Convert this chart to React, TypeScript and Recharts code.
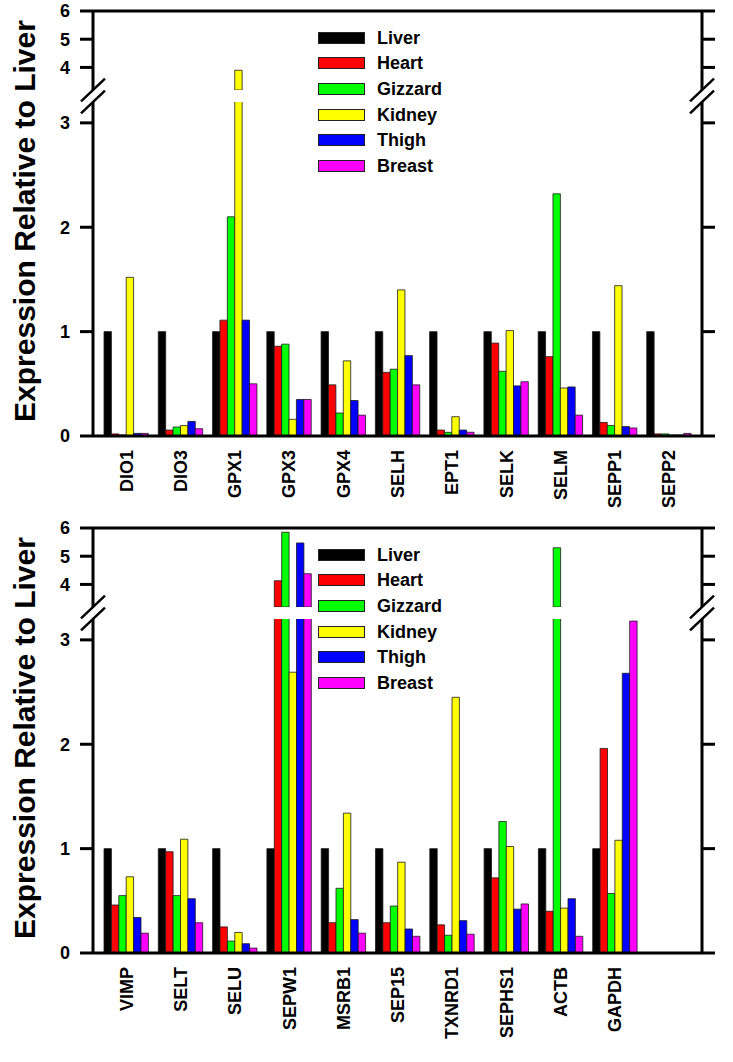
import React from 'react';
import { BarChart, Bar, XAxis, YAxis, Legend, ReferenceLine } from 'recharts';

const FONT = '"Liberation Sans", Arial, Helvetica, sans-serif';

const tissues = ['Liver', 'Heart', 'Gizzard', 'Kidney', 'Thigh', 'Breast'];
const colors = ['#000000', '#ff0000', '#00ff00', '#ffff00', '#0000ff', '#ff00ff'];

const genesA = ['DIO1', 'DIO3', 'GPX1', 'GPX3', 'GPX4', 'SELH', 'EPT1', 'SELK', 'SELM', 'SEPP1', 'SEPP2'];
const liverA = [1, 1, 1, 1, 1, 1, 1, 1, 1, 1, 1];
const heartA = [0.02, 0.057, 1.11, 0.86, 0.49, 0.61, 0.057, 0.89, 0.76, 0.13, 0.02];
const gizzardA = [0.01, 0.086, 2.1, 0.88, 0.22, 0.64, 0.035, 0.62, 2.32, 0.1, 0.02];
const kidneyA = [1.52, 0.1, 3.9, 0.16, 0.72, 1.4, 0.185, 1.01, 0.46, 1.44, 0.01];
const thighA = [0.025, 0.14, 1.11, 0.35, 0.34, 0.77, 0.057, 0.48, 0.47, 0.09, 0.01];
const breastA = [0.025, 0.07, 0.5, 0.35, 0.2, 0.49, 0.036, 0.52, 0.2, 0.077, 0.025];

const genesB = ['VIMP', 'SELT', 'SELU', 'SEPW1', 'MSRB1', 'SEP15', 'TXNRD1', 'SEPHS1', 'ACTB', 'GAPDH'];
const liverB = [1, 1, 1, 1, 1, 1, 1, 1, 1, 1];
const heartB = [0.46, 0.97, 0.25, 4.13, 0.29, 0.29, 0.27, 0.72, 0.4, 1.96];
const gizzardB = [0.55, 0.55, 0.114, 5.85, 0.62, 0.45, 0.17, 1.26, 5.3, 0.57];
const kidneyB = [0.73, 1.09, 0.197, 2.69, 1.34, 0.87, 2.45, 1.02, 0.43, 1.08];
const thighB = [0.34, 0.52, 0.089, 5.47, 0.32, 0.23, 0.31, 0.42, 0.52, 2.68];
const breastB = [0.19, 0.29, 0.047, 4.38, 0.19, 0.16, 0.18, 0.47, 0.16, 3.18];

const lowerTicks = [0, 1, 2, 3];
const upperTicks = [4, 5, 6];
const BREAK = 3.2;
const TOP = 6;

const yLabel = 'Expression Relative to Liver';

// layout constants
const W = 733;
const UPPER_H = 90;
const UPPER_MT = 11;
const LOWER_MT = 12;
const XAXIS_H = 95;
const PLOT_LOWER_H = 334;
const LOWER_H = LOWER_MT + PLOT_LOWER_H + XAXIS_H;
const ML = 33;
const MR = 11;
const YW = 60;
const YRW = 20;
const PANEL_OFFSETS = [0, 517];

const axisStyle = { stroke: '#000', strokeWidth: 3 };
const tickStyle = { fill: '#000', fontSize: 18, fontWeight: 700, fontFamily: FONT };

function buildRows(genes: string[], series: number[][], upper: boolean) {
  return genes.map((g, i) => {
    const row: any = { gene: g };
    tissues.forEach((t, k) => {
      const v = series[k][i];
      row[t] = upper ? (v > BREAK ? v : null) : v;
    });
    return row;
  });
}

function XTick(props: any) {
  const { x, y, payload } = props;
  return (
    <text
      x={x}
      y={y}
      transform={`rotate(-90, ${x}, ${y})`}
      textAnchor="end"
      dy="0.36em"
      fontSize={18}
      fontWeight={700}
      fontFamily={FONT}
      fill="#000"
    >
      {payload.value}
    </text>
  );
}

function LegendContent(props: any) {
  const payload = (props.payload || []).slice();
  payload.sort((a: any, b: any) => tissues.indexOf(a.value) - tissues.indexOf(b.value));
  return (
    <div style={{ fontFamily: FONT, fontWeight: 700, fontSize: 18, color: '#000' }}>
      {payload.map((e: any, i: number) => (
        <div key={i} style={{ display: 'flex', alignItems: 'center', height: 25.67 }}>
          <span
            style={{
              display: 'inline-block',
              width: 45,
              height: 10,
              background: e.color,
              border: '1px solid #222',
              marginRight: 12,
            }}
          />
          <span style={{ lineHeight: '18px' }}>{e.value}</span>
        </div>
      ))}
    </div>
  );
}

function makeBars() {
  return tissues.map((t, k) => (
    <Bar
      key={t}
      dataKey={t}
      name={t}
      fill={colors[k]}
      stroke="#1a1a1a"
      strokeWidth={0.8}
      isAnimationActive={false}
    />
  ));
}

function Panel({ genes, series, top, padRight }: { genes: string[]; series: number[][]; top: number; padRight: number }) {
  const upperRows = buildRows(genes, series, true);
  const lowerRows = buildRows(genes, series, false);
  return (
    <>
      <div style={{ position: 'absolute', left: 0, top }}>
        <BarChart
          width={W}
          height={UPPER_H}
          data={upperRows}
          margin={{ top: UPPER_MT, right: MR, bottom: 0, left: ML }}
          barSize={7.4}
          barGap={0}
        >
          <XAxis dataKey="gene" hide padding={{ left: 6, right: padRight }} />
          <YAxis
            type="number"
            domain={[BREAK, TOP]}
            ticks={upperTicks}
            allowDataOverflow
            width={YW}
            tickSize={13}
            tickMargin={10}
            axisLine={axisStyle}
            tickLine={axisStyle}
            tick={tickStyle}
            interval={0}
          />
          <YAxis
            yAxisId="right"
            orientation="right"
            type="number"
            domain={[BREAK, TOP]}
            ticks={upperTicks}
            allowDataOverflow
            width={YRW}
            tickSize={13}
            axisLine={axisStyle}
            tickLine={axisStyle}
            tickFormatter={() => ''}
            interval={0}
          />
          <ReferenceLine y={TOP} stroke="#000" strokeWidth={3} />
          {makeBars()}
        </BarChart>
      </div>
      <div style={{ position: 'absolute', left: 0, top: top + UPPER_H }}>
        <BarChart
          width={W}
          height={LOWER_H}
          data={lowerRows}
          margin={{ top: LOWER_MT, right: MR, bottom: 0, left: ML }}
          barSize={7.4}
          barGap={0}
        >
          <XAxis
            dataKey="gene"
            height={XAXIS_H}
            padding={{ left: 6, right: padRight }}
            axisLine={axisStyle}
            tickLine={false}
            tickSize={0}
            tickMargin={14}
            interval={0}
            tick={(p: any) => <XTick {...p} />}
          />
          <YAxis
            type="number"
            domain={[0, BREAK]}
            ticks={lowerTicks}
            allowDataOverflow
            width={YW}
            tickSize={13}
            tickMargin={10}
            axisLine={axisStyle}
            tickLine={axisStyle}
            tick={tickStyle}
            interval={0}
          />
          <YAxis
            yAxisId="right"
            orientation="right"
            type="number"
            domain={[0, BREAK]}
            ticks={lowerTicks}
            allowDataOverflow
            width={YRW}
            tickSize={13}
            axisLine={axisStyle}
            tickLine={axisStyle}
            tickFormatter={() => ''}
            interval={0}
          />
          <Legend
            layout="vertical"
            align="center"
            verticalAlign="middle"
            wrapperStyle={{ left: 318, top: 24.7 - UPPER_H, width: 160 }}
            content={(p: any) => <LegendContent {...p} />}
          />
          {makeBars()}
        </BarChart>
      </div>
    </>
  );
}

export default function App() {
  const seriesA = [liverA, heartA, gizzardA, kidneyA, thighA, breastA];
  const seriesB = [liverB, heartB, gizzardB, kidneyB, thighB, breastB];
  const plotL = ML + YW;
  const plotR = W - MR - YRW;
  return (
    <div style={{ position: 'absolute', left: 0, top: 0, width: W, height: 1062, background: '#fff' }}>
      <Panel genes={genesA} series={seriesA} top={PANEL_OFFSETS[0]} padRight={6} />
      <Panel genes={genesB} series={seriesB} top={PANEL_OFFSETS[1]} padRight={60} />
      <svg
        width={W}
        height={1062}
        style={{ position: 'absolute', left: 0, top: 0, pointerEvents: 'none' }}
      >
        {PANEL_OFFSETS.map((off) => {
          const yUp = off + UPPER_H;
          const yLo = off + UPPER_H + LOWER_MT;
          return (
            <g key={off}>
              <text
                transform={`translate(35, ${off + 221}) rotate(-90)`}
                textAnchor="middle"
                fontSize={30}
                fontWeight={700}
                fontFamily={FONT}
                fill="#000"
              >
                {yLabel}
              </text>
              {[plotL, plotR].map((x) =>
                [yUp, yLo].map((y) => (
                  <line
                    key={`${x}-${y}`}
                    x1={x - 12}
                    y1={y + 11.4}
                    x2={x + 12}
                    y2={y - 11.4}
                    stroke="#000"
                    strokeWidth={2.5}
                  />
                ))
              )}
            </g>
          );
        })}
      </svg>
    </div>
  );
}
